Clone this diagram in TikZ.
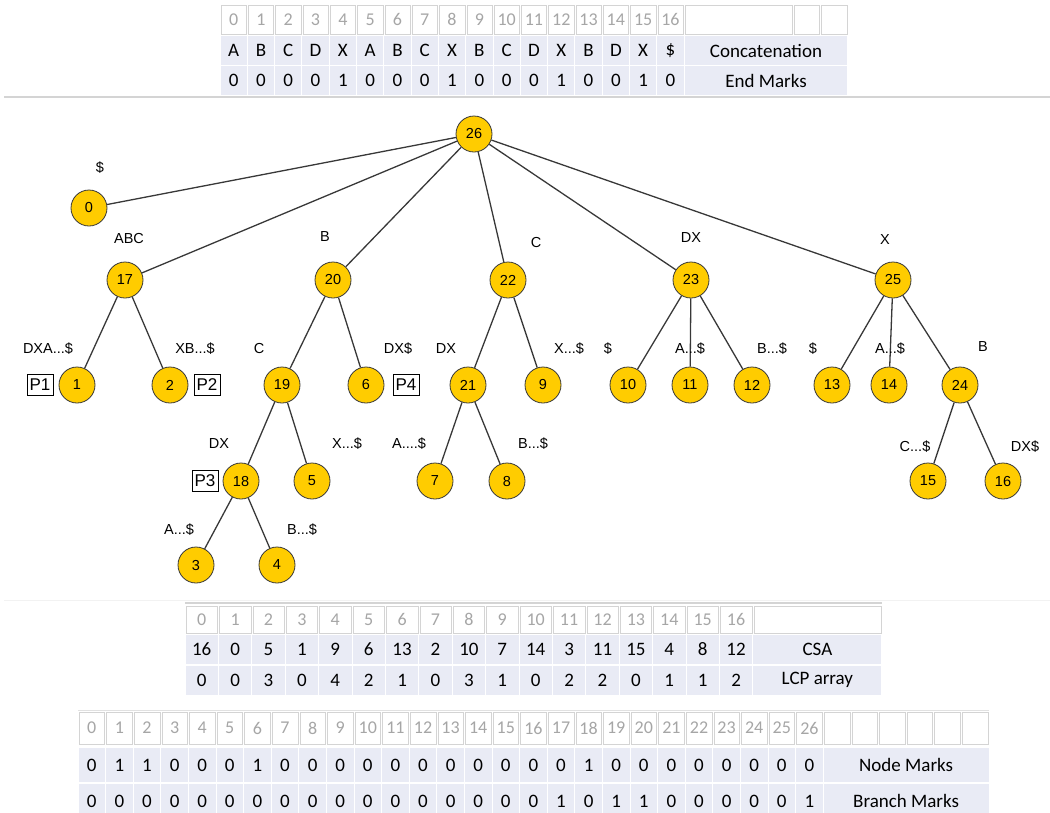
\documentclass[tikz,border=0pt]{standalone}
\usepackage{fontspec}
\setmainfont{Liberation Sans}
\newfontfamily\calfont{Carlito}

\definecolor{nodegold}{HTML}{FFCC00}
\definecolor{rowblue}{HTML}{E9EBF5}
\definecolor{idxgray}{HTML}{A6A6A6}
\definecolor{gridgray}{HTML}{D4D4D4}
\definecolor{edgegray}{HTML}{383838}

\tikzset{
  tnode/.style={circle, draw=edgegray, thick, fill=nodegold, minimum size=36pt, inner sep=0pt, font=\fontsize{14.5}{14.5}\selectfont},
  elabel/.style={inner sep=0pt, font=\fontsize{14.5}{14.5}\selectfont},
  pbox/.style={draw, thick, minimum width=26pt, minimum height=21pt, inner sep=0pt, font=\fontsize{17}{17}\selectfont},
  tedge/.style={draw=edgegray, line width=1.3pt},
  hcell/.style={draw=gridgray, fill=white, inner sep=0pt, text=idxgray, font=\calfont\fontsize{18}{18}\selectfont},
  dcell/.style={fill=rowblue, inner sep=0pt, font=\calfont\fontsize{19}{19}\selectfont},
}

\begin{document}
\begin{tikzpicture}[x=1pt,y=-1pt]
  \useasboundingbox (0,0) rectangle (1050,812);

  % concatenation table
  \foreach \i in {0,...,16}
    \node[hcell, minimum width=25.3pt, minimum height=29pt] (ti\i) at ({233.65+27.3*\i},19.5) {\i};
  \node[hcell, minimum width=107.2pt, minimum height=29pt] (tiL) at (738.6,19.5) {};
  \node[hcell, minimum width=25.3pt, minimum height=29pt] (tiM) at (806.9,19.5) {};
  \node[hcell, minimum width=25.3pt, minimum height=29pt] (tiR) at (834.2,19.5) {};
  \foreach \c [count=\i from 0] in {A,B,C,D,X,A,B,C,X,B,C,D,X,B,D,X,\$}
    \node[dcell, minimum width=26.3pt, minimum height=28.6pt] (tc\i) at ({233.65+27.3*\i},50.5) {\c};
  \node[dcell, minimum width=162.8pt, minimum height=28.6pt] (tcL) at (766,50.5) {Concatenation};
  \foreach \c [count=\i from 0] in {0,0,0,0,1,0,0,0,1,0,0,0,1,0,0,1,0}
    \node[dcell, minimum width=26.3pt, minimum height=28.6pt] (te\i) at ({233.65+27.3*\i},80.5) {\c};
  \node[dcell, minimum width=162.8pt, minimum height=28.6pt] (teL) at (766,80.5) {End Marks};
  \draw[gridgray, line width=1.5pt] (4,97) -- (1050,97);

  % tree
  \node[tnode] (n26) at (474,134) {26};
  \node[tnode] (n0)  at (89,208)  {0};
  \node[tnode] (n17) at (125,280) {17};
  \node[tnode] (n20) at (333,280) {20};
  \node[tnode] (n22) at (508,280) {22};
  \node[tnode] (n23) at (691,280) {23};
  \node[tnode] (n25) at (893,280) {25};
  \node[tnode] (n1)  at (77,385)  {1};
  \node[tnode] (n2)  at (170,385) {2};
  \node[tnode] (n19) at (282,385) {19};
  \node[tnode] (n6)  at (366,385) {6};
  \node[tnode] (n21) at (468,385) {21};
  \node[tnode] (n9)  at (543,385) {9};
  \node[tnode] (n10) at (628,385) {10};
  \node[tnode] (n11) at (690,385) {11};
  \node[tnode] (n12) at (752,385) {12};
  \node[tnode] (n13) at (832,385) {13};
  \node[tnode] (n14) at (889,385) {14};
  \node[tnode] (n24) at (960,385) {24};
  \node[tnode] (n18) at (241,481) {18};
  \node[tnode] (n5)  at (312,481) {5};
  \node[tnode] (n7)  at (435,481) {7};
  \node[tnode] (n8)  at (507,481) {8};
  \node[tnode] (n15) at (928,481) {15};
  \node[tnode] (n16) at (1003,481) {16};
  \node[tnode] (n3)  at (196,565) {3};
  \node[tnode] (n4)  at (277,565) {4};

  \foreach \a/\b in {26/0,26/17,26/20,26/22,26/23,26/25,17/1,17/2,20/19,20/6,
                     22/21,22/9,23/10,23/11,23/12,25/13,25/14,25/24,19/18,19/5,
                     21/7,21/8,24/15,24/16,18/3,18/4}
    \draw[tedge] (n\a) -- (n\b);

  % edge labels
  \node[elabel] (l0)  at (100,168) {\$};
  \node[elabel] (l17) at (129,239) {ABC};
  \node[elabel] (l20) at (325,237) {B};
  \node[elabel] (l22) at (536,243) {C};
  \node[elabel] (l23) at (691,238) {DX};
  \node[elabel] (l25) at (885,240) {X};
  \node[elabel] (l1)  at (48,349)  {DXA...\$};
  \node[elabel] (l2)  at (195,349) {XB...\$};
  \node[elabel] (l19) at (259,349) {C};
  \node[elabel] (l6)  at (398,349) {DX\$};
  \node[elabel] (l21) at (446,349) {DX};
  \node[elabel] (l9)  at (569,349) {X...\$};
  \node[elabel] (l10) at (608,349) {\$};
  \node[elabel] (l11) at (690,349) {A...\$};
  \node[elabel] (l12) at (772,349) {B...\$};
  \node[elabel] (l13) at (813,349) {\$};
  \node[elabel] (l14) at (890,349) {A...\$};
  \node[elabel] (l24) at (983,347) {B};
  \node[elabel] (l18) at (219,444) {DX};
  \node[elabel] (l5)  at (347,444) {X...\$};
  \node[elabel] (l7)  at (409,444) {A....\$};
  \node[elabel] (l8)  at (533,444) {B...\$};
  \node[elabel] (l15) at (915,447) {C...\$};
  \node[elabel] (l16) at (1025,447) {DX\$};
  \node[elabel] (l3)  at (179,530) {A...\$};
  \node[elabel] (l4)  at (302,530) {B...\$};

  \node[pbox] (p1) at (40,385)  {P1};
  \node[pbox] (p2) at (207,385) {P2};
  \node[pbox] (p4) at (406,385) {P4};
  \node[pbox] (p3) at (205,481) {P3};

  % CSA and LCP table
  \draw[gray!10, line width=1pt] (4,600) -- (1050,600);
  \draw[gridgray, line width=1.2pt] (185,603) -- (882,603);
  \foreach \i in {0,...,16}
    \node[hcell, minimum width=31.4pt, minimum height=27pt] (ci\i) at ({201.7+33.4*\i},619.5) {\i};
  \node[hcell, minimum width=127pt, minimum height=27pt] (ciL) at (817.4,619.5) {};
  \foreach \c [count=\i from 0] in {16,0,5,1,9,6,13,2,10,7,14,3,11,15,4,8,12}
    \node[dcell, minimum width=32.4pt, minimum height=29pt] (cs\i) at ({201.7+33.4*\i},649.5) {\c};
  \node[dcell, minimum width=128pt, minimum height=29pt] (csL) at (817.4,649.5) {CSA};
  \foreach \c [count=\i from 0] in {0,0,3,0,4,2,1,0,3,1,0,2,2,0,1,1,2}
    \node[dcell, minimum width=32.4pt, minimum height=29pt] (lc\i) at ({201.7+33.4*\i},680) {\c};
  \node[dcell, minimum width=128pt, minimum height=29pt] (lcL) at (817.4,680) {LCP array};

  % node and branch marks table
  \draw[gridgray!70, line width=1pt] (78,710) -- (989,710);
  \foreach \i in {0,...,26}
    \node[hcell, minimum width=25.6pt, minimum height=32pt] (bi\i) at ({91.8+27.6*\i},728) {\i};
  \foreach \i in {27,...,32}
    \node[hcell, minimum width=25.6pt, minimum height=32pt] (bx\i) at ({91.8+27.6*\i},728) {};
  \foreach \c [count=\i from 0] in {0,1,1,0,0,0,1,0,0,0,0,0,0,0,0,0,0,0,1,0,0,0,0,0,0,0,0}
    \node[dcell, minimum width=26.6pt, minimum height=34pt] (nm\i) at ({91.8+27.6*\i},765) {\c};
  \node[dcell, minimum width=164.8pt, minimum height=34pt] (nmL) at (906.1,765) {Node Marks};
  \foreach \c [count=\i from 0] in {0,0,0,0,0,0,0,0,0,0,0,0,0,0,0,0,0,1,0,1,1,0,0,0,0,0,1}
    \node[dcell, minimum width=26.6pt, minimum height=34pt] (bm\i) at ({91.8+27.6*\i},801) {\c};
  \node[dcell, minimum width=164.8pt, minimum height=34pt] (bmL) at (906.1,801) {Branch Marks};
\end{tikzpicture}
\end{document}
